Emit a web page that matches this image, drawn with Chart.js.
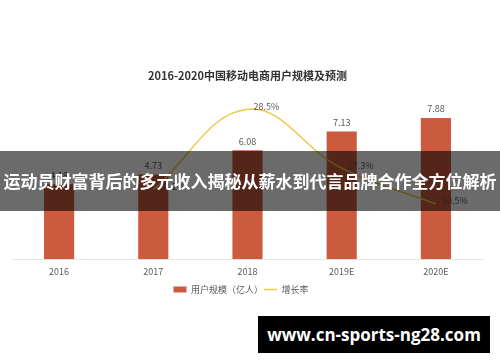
<!DOCTYPE html>
<html>
<head>
<meta charset="utf-8">
<script src="https://cdn.jsdelivr.net/npm/chart.js@4"></script>
<style>
  html, body { margin: 0; padding: 0; background: #fff; }
  #wrap { position: relative; width: 500px; height: 362px; overflow: hidden; }
  #banner {
    position: absolute; left: 0; top: 151px; width: 500px; height: 60px;
    background: rgba(0, 0, 0, 0.58); color: #fff;
    font: bold 17px "Noto Sans CJK SC", sans-serif;
    line-height: 60px; text-align: center; white-space: nowrap;
  }
  #mark {
    position: absolute; left: 258px; top: 316px; width: 232px; height: 37px;
    background: #000; color: #fff;
    font: bold 17px "Open Sans", "DejaVu Sans", sans-serif;
    line-height: 37px; text-align: center;
  }
</style>
</head>
<body>
<div id="wrap">
  <canvas id="chart" width="500" height="362"></canvas>
  <div id="banner">运动员财富背后的多元收入揭秘从薪水到代言品牌合作全方位解析</div>
  <div id="mark">www.cn-sports-ng28.com</div>
</div>
<script>
// ---- dữ liệu ----
const years = ['2016', '2017', '2018', '2019E', '2020E'];
const users = [4.18, 4.73, 6.08, 7.13, 7.88];        // 用户规模（亿人）
const growth = [null, 13.2, 28.5, 17.3, 10.5];       // 增长率 %

const barColor = '#CB5A3E';
const lineColor = '#EDC948';
const textColor = '#595959';

// ghi nhãn số lên cột và đường
const valueLabels = {
  id: 'valueLabels',
  afterDatasetsDraw(chart) {
    const ctx = chart.ctx;
    ctx.save();
    ctx.font = '9px "Noto Sans CJK SC", sans-serif';
    ctx.fillStyle = textColor;
    ctx.textBaseline = 'middle';

    const bars = chart.getDatasetMeta(0).data;
    ctx.textAlign = 'center';
    bars.forEach((b, i) => ctx.fillText(users[i].toFixed(2), b.x, b.y - 9));

    const pts = chart.getDatasetMeta(1).data;
    ctx.textAlign = 'left';
    pts.forEach((p, i) => {
      if (growth[i] == null) return;
      ctx.fillText(growth[i].toFixed(1) + '%', p.x + 6, p.y - 3);
    });
    ctx.restore();
  }
};

new Chart(document.getElementById('chart'), {
  data: {
    labels: years,
    datasets: [
      {
        type: 'bar',
        label: '用户规模（亿人）',
        data: users,
        backgroundColor: barColor,
        barPercentage: 0.32,
        categoryPercentage: 1,
        pointStyle: 'rect',
        yAxisID: 'y',
        order: 2
      },
      {
        type: 'line',
        label: '增长率',
        data: growth,
        borderColor: lineColor,
        backgroundColor: lineColor,
        borderWidth: 1.5,
        pointRadius: 0,
        pointStyle: 'line',
        tension: 0.4,
        yAxisID: 'y2',
        order: 1
      }
    ]
  },
  options: {
    responsive: false,
    animation: false,
    layout: { padding: { top: 69, bottom: 58, left: 12, right: 17 } },
    plugins: {
      title: {
        display: true,
        text: '2016-2020中国移动电商用户规模及预测',
        color: '#333',
        font: { family: '"Noto Sans CJK SC", sans-serif', size: 11, weight: 'bold' },
        padding: { top: 0, bottom: 14 }
      },
      legend: {
        position: 'bottom',
        labels: {
          usePointStyle: true,
          pointStyleWidth: 13,
          boxHeight: 6,
          color: textColor,
          padding: 1,
          font: { family: '"Noto Sans CJK SC", sans-serif', size: 9 },
          sort: (a, b) => a.datasetIndex - b.datasetIndex,
          generateLabels(chart) {
            const items = Chart.defaults.plugins.legend.labels.generateLabels(chart);
            items.forEach((it, i) => { if (i < items.length - 1) it.text += '\u3000  '; });
            return items;
          }
        }
      },
      tooltip: { enabled: false }
    },
    scales: {
      x: {
        grid: { display: false, drawTicks: false },
        border: { color: '#e6e6e6' },
        ticks: {
          color: textColor,
          padding: 7,
          font: { family: '"Noto Sans CJK SC", sans-serif', size: 9 }
        }
      },
      y: { display: false, min: 0, max: 9.1 },
      y2: { display: false, min: 0, max: 31.0 }
    }
  },
  plugins: [valueLabels]
});
</script>
</body>
</html>
